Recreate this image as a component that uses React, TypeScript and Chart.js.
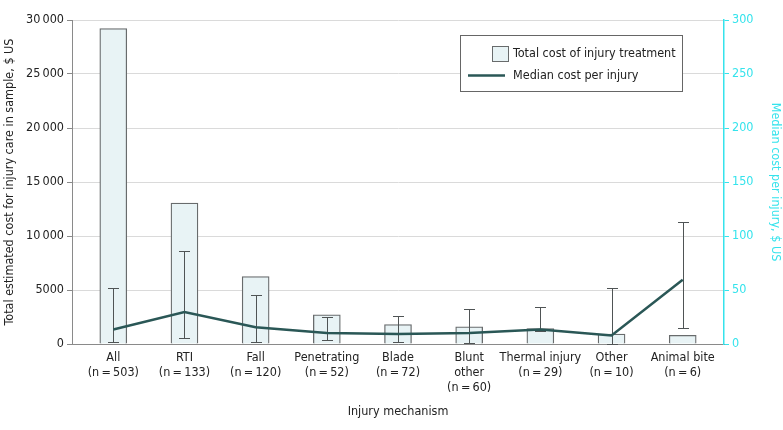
import React, { useEffect, useRef } from "react";
import { Chart, registerables } from "chart.js";

Chart.register(...registerables);

const categories = ["All", "RTI", "Fall", "Penetrating", "Blade", "Blunt other", "Thermal injury", "Other", "Animal bite"];
const tickLabels: string[][] = [
  ["All", "(n\u2009=\u2009503)"],
  ["RTI", "(n\u2009=\u2009133)"],
  ["Fall", "(n\u2009=\u2009120)"],
  ["Penetrating", "(n\u2009=\u200952)"],
  ["Blade", "(n\u2009=\u200972)"],
  ["Blunt", "other", "(n\u2009=\u200960)"],
  ["Thermal injury", "(n\u2009=\u200929)"],
  ["Other", "(n\u2009=\u200910)"],
  ["Animal bite", "(n\u2009=\u20096)"],
];
const totalCost = [29200, 13050, 6250, 2700, 1800, 1600, 1430, 930, 810];
const medianCost = [13.4, 29.7, 15.5, 10.2, 9.3, 10.2, 13.4, 7.8, 59.4];
const errLow = [1.9, 6, 1.6, 4, 1.9, 1.3, 12.5, 0.4, 15.2];
const errHigh = [51.4, 86, 45, 25.4, 26, 32.5, 34.7, 52, 112.6];
const leftTicks = [0, 5000, 10000, 15000, 20000, 25000, 30000];
const rightTicks = [0, 50, 100, 150, 200, 250, 300];

const FONT = "'DejaVu Sans Condensed', 'Liberation Sans Narrow', 'Liberation Sans', sans-serif";
const FS = 12.5;
const BAR_FILL = "#e8f3f5";
const BAR_BORDER = "#686b6c";
const LINE_COLOR = "#2a5756";
const ERR_COLOR = "#4f5455";
const CYAN = "#35e3ec";
const TEXT = "#222";

const fmtLeft = (v: number) => {
  if (v >= 10000) {
    const s = String(v);
    return s.slice(0, s.length - 3) + "\u2009" + s.slice(-3);
  }
  return String(v);
};

const errorBarPlugin = {
  id: "errorBars",
  afterDatasetDraw(chart: any, args: any) {
    if (args.index !== 0) return;
    const ctx = chart.ctx;
    const x = chart.scales.x;
    const y1 = chart.scales.y1;
    ctx.save();
    ctx.strokeStyle = ERR_COLOR;
    ctx.lineWidth = 1;
    for (let i = 0; i < categories.length; i++) {
      const px = Math.round(x.getPixelForValue(i)) + 0.5;
      const top = Math.round(y1.getPixelForValue(errHigh[i])) + 0.5;
      const bot = Math.round(y1.getPixelForValue(errLow[i])) + 0.5;
      ctx.beginPath();
      ctx.moveTo(px, top);
      ctx.lineTo(px, bot);
      ctx.moveTo(px - 5.5, top);
      ctx.lineTo(px + 5.5, top);
      ctx.moveTo(px - 5.5, bot);
      ctx.lineTo(px + 5.5, bot);
      ctx.stroke();
    }
    ctx.restore();
  },
};

const legendPlugin = {
  id: "customLegend",
  afterDraw(chart: any) {
    const ctx = chart.ctx;
    ctx.save();
    ctx.fillStyle = "#fff";
    ctx.strokeStyle = "#666";
    ctx.lineWidth = 1;
    ctx.fillRect(460.5, 35.5, 222, 56);
    ctx.strokeRect(460.5, 35.5, 222, 56);
    ctx.fillStyle = BAR_FILL;
    ctx.strokeStyle = BAR_BORDER;
    ctx.fillRect(492.5, 46.5, 16, 15);
    ctx.strokeRect(492.5, 46.5, 16, 15);
    ctx.strokeStyle = LINE_COLOR;
    ctx.lineWidth = 2.5;
    ctx.beginPath();
    ctx.moveTo(468, 75.5);
    ctx.lineTo(505, 75.5);
    ctx.stroke();
    ctx.fillStyle = TEXT;
    ctx.font = `${FS}px ${FONT}`;
    ctx.textBaseline = "middle";
    ctx.textAlign = "left";
    ctx.fillText("Total cost of injury treatment", 513, 54);
    ctx.fillText("Median cost per injury", 513, 76);
    ctx.restore();
  },
};

export default function App() {
  const ref = useRef<HTMLCanvasElement>(null);
  useEffect(() => {
    document.body.style.margin = "0";
    const chart = new Chart(ref.current!, {
      type: "bar",
      data: {
        datasets: [
          {
            type: "bar",
            label: "Total cost of injury treatment",
            data: totalCost.map((v, i) => ({ x: i, y: v })),
            backgroundColor: BAR_FILL,
            borderColor: BAR_BORDER,
            borderWidth: 1.3,
            barThickness: 27,
            yAxisID: "y",
            order: 1,
          } as any,
          {
            type: "line",
            label: "Median cost per injury",
            data: medianCost.map((v, i) => ({ x: i, y: v })),
            borderColor: LINE_COLOR,
            borderWidth: 2.5,
            pointRadius: 0,
            tension: 0,
            fill: false,
            yAxisID: "y1",
            order: 0,
          } as any,
        ],
      },
      options: {
        responsive: false,
        animation: false,
        layout: { padding: { top: 20, left: 0, right: 0, bottom: 0 } },
        plugins: { legend: { display: false }, tooltip: { enabled: false } },
        scales: {
          x: {
            type: "linear",
            offset: false,
            min: -0.58,
            max: 8.58,
            afterBuildTicks: (s: any) => {
              s.ticks = categories.map((_, i) => ({ value: i }));
            },
            afterFit: (s: any) => {
              s.height = 86;
            },
            ticks: {
              callback: (v: any) => tickLabels[Math.round(v)],
              color: TEXT,
              font: { family: FONT, size: FS },
              padding: 6,
              maxRotation: 0,
              autoSkip: false,
            },
            grid: { display: false, drawTicks: false, offset: false },
            border: { display: true, color: "#8a8a8a", width: 1 },
            title: {
              display: true,
              text: "Injury mechanism",
              color: TEXT,
              font: { family: FONT, size: FS },
              padding: { top: 4, bottom: 11 },
            },
          },
          y: {
            type: "linear",
            position: "left",
            min: 0,
            max: 30000,
            afterBuildTicks: (s: any) => {
              s.ticks = leftTicks.map((v) => ({ value: v }));
            },
            afterFit: (s: any) => {
              s.width = 72;
            },
            ticks: {
              callback: (v: any) => fmtLeft(Number(v)),
              color: TEXT,
              font: { family: FONT, size: FS },
              padding: 3,
            },
            grid: { color: "#dadada", tickColor: "#8a8a8a", tickLength: 5, drawTicks: true },
            border: { color: "#8a8a8a", width: 1 },
            title: {
              display: true,
              text: "Total estimated cost for injury care in sample, $ US",
              color: TEXT,
              font: { family: FONT, size: FS },
              padding: { top: 2, bottom: 0 },
            },
          },
          y1: {
            type: "linear",
            position: "right",
            min: 0,
            max: 300,
            afterBuildTicks: (s: any) => {
              s.ticks = rightTicks.map((v) => ({ value: v }));
            },
            afterFit: (s: any) => {
              s.width = 59;
            },
            ticks: {
              color: CYAN,
              font: { family: FONT, size: FS },
              padding: 3,
            },
            grid: { drawOnChartArea: false, tickColor: CYAN, tickLength: 5 },
            border: { color: CYAN, width: 1.5 },
            title: {
              display: true,
              text: "Median cost per injury, $ US",
              color: CYAN,
              font: { family: FONT, size: FS },
              padding: { top: 0, bottom: 0 },
            },
          },
        },
      } as any,
      plugins: [errorBarPlugin, legendPlugin],
    });
    return () => chart.destroy();
  }, []);
  return (
    <div style={{ position: "absolute", left: 0, top: 0, width: 783, height: 430 }}>
      <canvas ref={ref} width={783} height={430} />
    </div>
  );
}
